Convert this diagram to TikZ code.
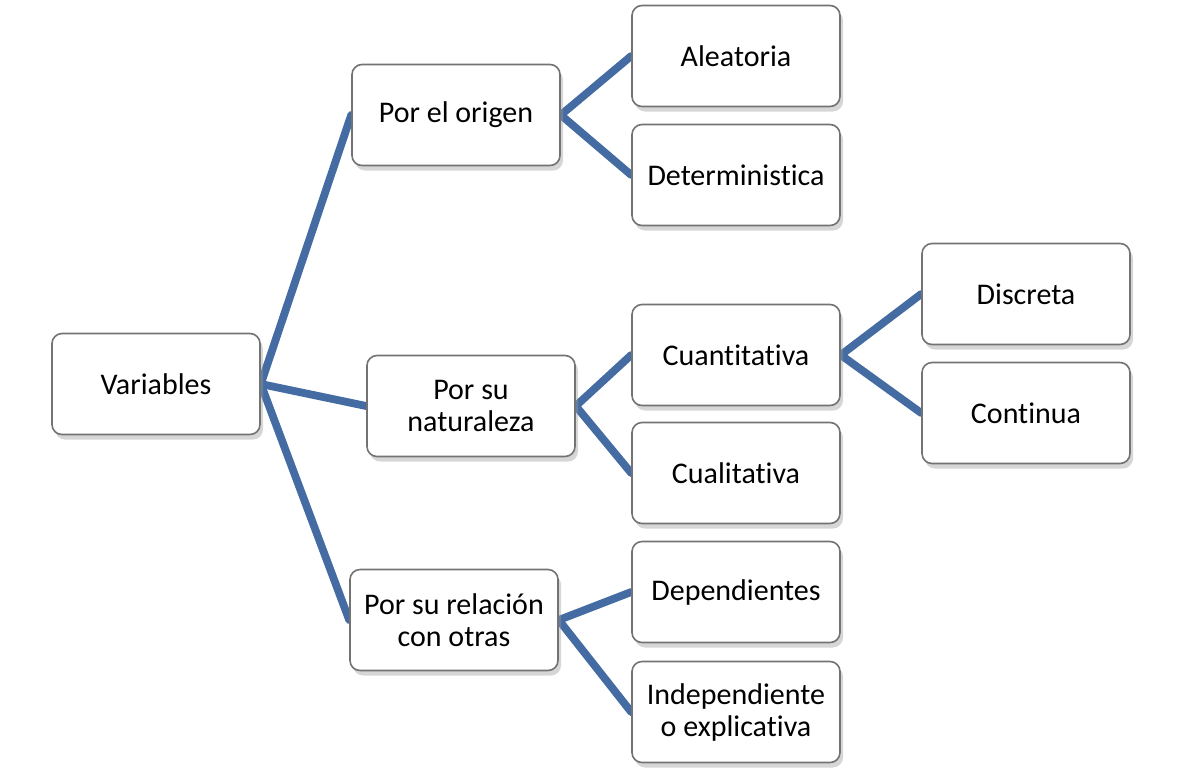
\documentclass[tikz,border=0pt]{standalone}
\usepackage{fontspec}
\setmainfont[Ligatures=NoCommon]{Carlito}
\usetikzlibrary{shadows,backgrounds}
\definecolor{ramablue}{RGB}{68,108,163}
\tikzset{caja/.style={rectangle, rounded corners=5pt, fill=white, draw=black!55,
                       line width=0.8pt, minimum width=104pt, minimum height=50.5pt,
                       align=center, font=\fontsize{15}{16}\selectfont,
                       drop shadow={shadow xshift=1.5pt, shadow yshift=-2.5pt,
                                    fill=black!40, opacity=0.4}},
        rama/.style={draw=ramablue, line width=3.9pt, line cap=round},
        }

\begin{document}
\begin{tikzpicture}[x=0.5pt,y=-0.5pt]
    \useasboundingbox (0,0) rectangle (1193,783);
    \node[caja] (Variables) at (156,384) {Variables};
    \node[caja] (Origen) at (456,115) {Por el origen};
    \node[caja] (Naturaleza) at (471,406) {Por su\\naturaleza};
    \node[caja] (Relacion) at (454,620) {Por su relación\\con otras};
    \node[caja] (Aleatoria) at (736,56) {Aleatoria};
    \node[caja] (Deterministica) at (736,175) {Deterministica};
    \node[caja] (Cuantitativa) at (736,355) {Cuantitativa};
    \node[caja] (Cualitativa) at (736,473) {Cualitativa};
    \node[caja] (Discreta) at (1026,294) {Discreta};
    \node[caja] (Continua) at (1026,413) {Continua};
    \node[caja] (Dependientes) at (736,592) {Dependientes};
    \node[caja] (Independiente) at (736,712) {Independiente\\o explicativa};

    \begin{scope}[on background layer]
    \draw [rama] (Variables.east) -- (Origen.west);
    \draw [rama] (Variables.east) -- (Naturaleza.west);
    \draw [rama] (Variables.east) -- (Relacion.west);

    \draw [rama] (Origen.east) -- (Aleatoria.west);
    \draw [rama] (Origen.east) -- (Deterministica.west);

    \draw [rama] (Naturaleza.east) -- (Cuantitativa.west);
    \draw [rama] (Naturaleza.east) -- (Cualitativa.west);

    \draw [rama] (Cuantitativa.east) -- (Discreta.west);
    \draw [rama] (Cuantitativa.east) -- (Continua.west);

    \draw [rama] (Relacion.east) -- (Dependientes.west);
    \draw [rama] (Relacion.east) -- (Independiente.west);
    \end{scope}
\end{tikzpicture}
\end{document}
